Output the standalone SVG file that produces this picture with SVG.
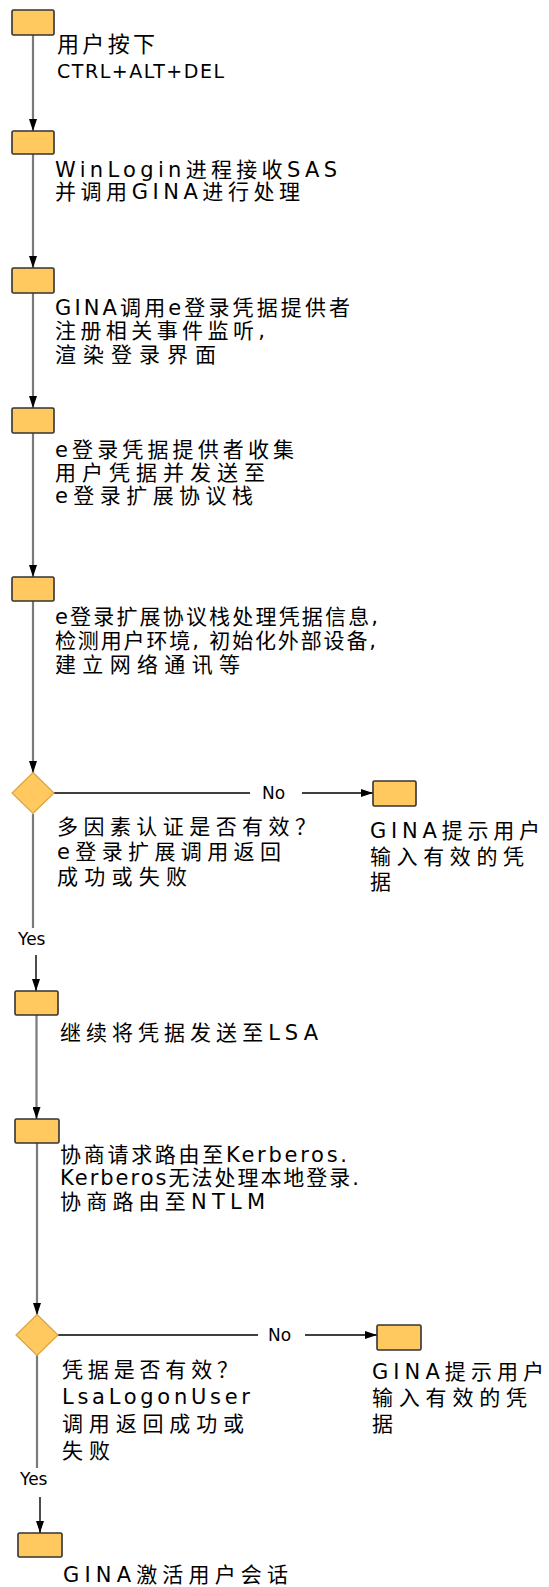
<svg xmlns="http://www.w3.org/2000/svg" width="549" height="1587" viewBox="0 0 549 1587">
<style>
.box{fill:#FFC95F;stroke:#333;stroke-width:1.6}
.dia{fill:#FFC95F;stroke:#D9A442;stroke-width:1.2}
.main{fill:none;stroke:#7a7a7a;stroke-width:2.2}
.thin{fill:none;stroke:#000;stroke-width:1.4}
text{font-family:"DejaVu Sans","Noto Sans CJK SC",sans-serif;font-size:21px;fill:#000}
.big{font-size:22px}
.lbl{font-size:17px}
</style>
<defs>
<marker id="ah" viewBox="0 0 12 8" refX="12" refY="4" markerWidth="12" markerHeight="8" markerUnits="userSpaceOnUse" orient="auto"><path d="M0,0 L12,4 L0,8 z" fill="#000"/></marker>
</defs>
<g id="connectors">
<path class="main" d="M33,35 V131" marker-end="url(#ah)"/>
<path class="main" d="M33,154 V268" marker-end="url(#ah)"/>
<path class="main" d="M33,293 V408" marker-end="url(#ah)"/>
<path class="main" d="M33,433 V577" marker-end="url(#ah)"/>
<path class="main" d="M33,600 V773" marker-end="url(#ah)"/>
<path class="main" d="M33,814 V928"/>
<path class="thin" d="M54,793 H250"/>
<path class="thin" d="M302,793 H373" marker-end="url(#ah)"/>
<text class="lbl" x="262" y="799">No</text>
<text class="lbl" x="18" y="945">Yes</text>
<path class="thin" d="M36,955 V991" marker-end="url(#ah)"/>
<path class="main" d="M36.5,1015 V1119" marker-end="url(#ah)"/>
<path class="main" d="M37,1143 V1315" marker-end="url(#ah)"/>
<path class="main" d="M37,1355 V1468"/>
<path class="thin" d="M58,1335 H258"/>
<path class="thin" d="M305,1335 H377" marker-end="url(#ah)"/>
<text class="lbl" x="268" y="1341">No</text>
<text class="lbl" x="20" y="1485">Yes</text>
<path class="thin" d="M40,1497 V1533" marker-end="url(#ah)"/>
</g>
<g id="n1">
<rect class="box" x="12" y="10" width="42" height="25" rx="1.5"/>
<text class="big" x="57" y="52" textLength="98" lengthAdjust="spacing">用户按下</text>
<text x="57" y="78" textLength="167" lengthAdjust="spacing" style="font-size:19px">CTRL+ALT+DEL</text>
</g>
<g id="n2">
<rect class="box" x="12" y="131" width="42" height="23" rx="1.5"/>
<text x="55" y="176.5" textLength="282" lengthAdjust="spacing">WinLogin进程接收SAS</text>
<text x="55" y="199" textLength="245" lengthAdjust="spacing">并调用GINA进行处理</text>
</g>
<g id="n3">
<rect class="box" x="12" y="268" width="42" height="25" rx="1.5"/>
<text x="55" y="315" textLength="295" lengthAdjust="spacing">GINA调用e登录凭据提供者</text>
<text x="55" y="338" textLength="210" lengthAdjust="spacing">注册相关事件监听,</text>
<text x="55" y="362" textLength="161" lengthAdjust="spacing">渲染登录界面</text>
</g>
<g id="n4">
<rect class="box" x="12" y="408" width="42" height="25" rx="1.5"/>
<text x="55" y="457" textLength="239" lengthAdjust="spacing">e登录凭据提供者收集</text>
<text x="55" y="480" textLength="210" lengthAdjust="spacing">用户凭据并发送至</text>
<text x="55" y="503" textLength="198" lengthAdjust="spacing">e登录扩展协议栈</text>
</g>
<g id="n5">
<rect class="box" x="12" y="577" width="42" height="24" rx="1.5"/>
<text x="55" y="624" textLength="323" lengthAdjust="spacing">e登录扩展协议栈处理凭据信息,</text>
<text x="55" y="648" textLength="321" lengthAdjust="spacing">检测用户环境, 初始化外部设备,</text>
<text x="55" y="672" textLength="185" lengthAdjust="spacing">建立网络通讯等</text>
</g>
<g id="d1">
<path class="dia" d="M33,772.5 L54,793 L33,813.5 L12,793 Z"/>
<text x="57" y="834" textLength="259" lengthAdjust="spacing">多因素认证是否有效？</text>
<text x="57" y="859" textLength="224" lengthAdjust="spacing">e登录扩展调用返回</text>
<text x="57" y="884" textLength="130" lengthAdjust="spacing">成功或失败</text>
</g>
<g id="r1">
<rect class="box" x="373" y="781" width="43" height="25" rx="1.5"/>
<text x="370" y="838" textLength="170" lengthAdjust="spacing">GINA提示用户</text>
<text x="370" y="864" textLength="154" lengthAdjust="spacing">输入有效的凭</text>
<text x="370" y="889">据</text>
</g>
<g id="n6">
<rect class="box" x="15" y="991" width="43" height="24" rx="1.5"/>
<text x="60" y="1040" textLength="258" lengthAdjust="spacing">继续将凭据发送至LSA</text>
</g>
<g id="n7">
<rect class="box" x="15" y="1119" width="44" height="24" rx="1.5"/>
<text x="60" y="1162" textLength="287" lengthAdjust="spacing">协商请求路由至Kerberos.</text>
<text x="60" y="1185" textLength="299" lengthAdjust="spacing">Kerberos无法处理本地登录.</text>
<text x="60" y="1209" textLength="205" lengthAdjust="spacing">协商路由至NTLM</text>
</g>
<g id="d2">
<path class="dia" d="M37,1314.5 L58,1335 L37,1355.5 L16,1335 Z"/>
<text x="62" y="1377" textLength="176" lengthAdjust="spacing">凭据是否有效？</text>
<text x="62" y="1404" textLength="188" lengthAdjust="spacing">LsaLogonUser</text>
<text x="62" y="1431" textLength="182" lengthAdjust="spacing">调用返回成功或</text>
<text x="62" y="1458" textLength="48" lengthAdjust="spacing">失败</text>
</g>
<g id="r2">
<rect class="box" x="377" y="1325" width="44" height="25" rx="1.5"/>
<text x="372" y="1379" textLength="172" lengthAdjust="spacing">GINA提示用户</text>
<text x="372" y="1405" textLength="155" lengthAdjust="spacing">输入有效的凭</text>
<text x="372" y="1431">据</text>
</g>
<g id="n8">
<rect class="box" x="18" y="1533" width="44" height="24" rx="1.5"/>
<text x="63" y="1582" textLength="225" lengthAdjust="spacing">GINA激活用户会话</text>
</g>
</svg>
